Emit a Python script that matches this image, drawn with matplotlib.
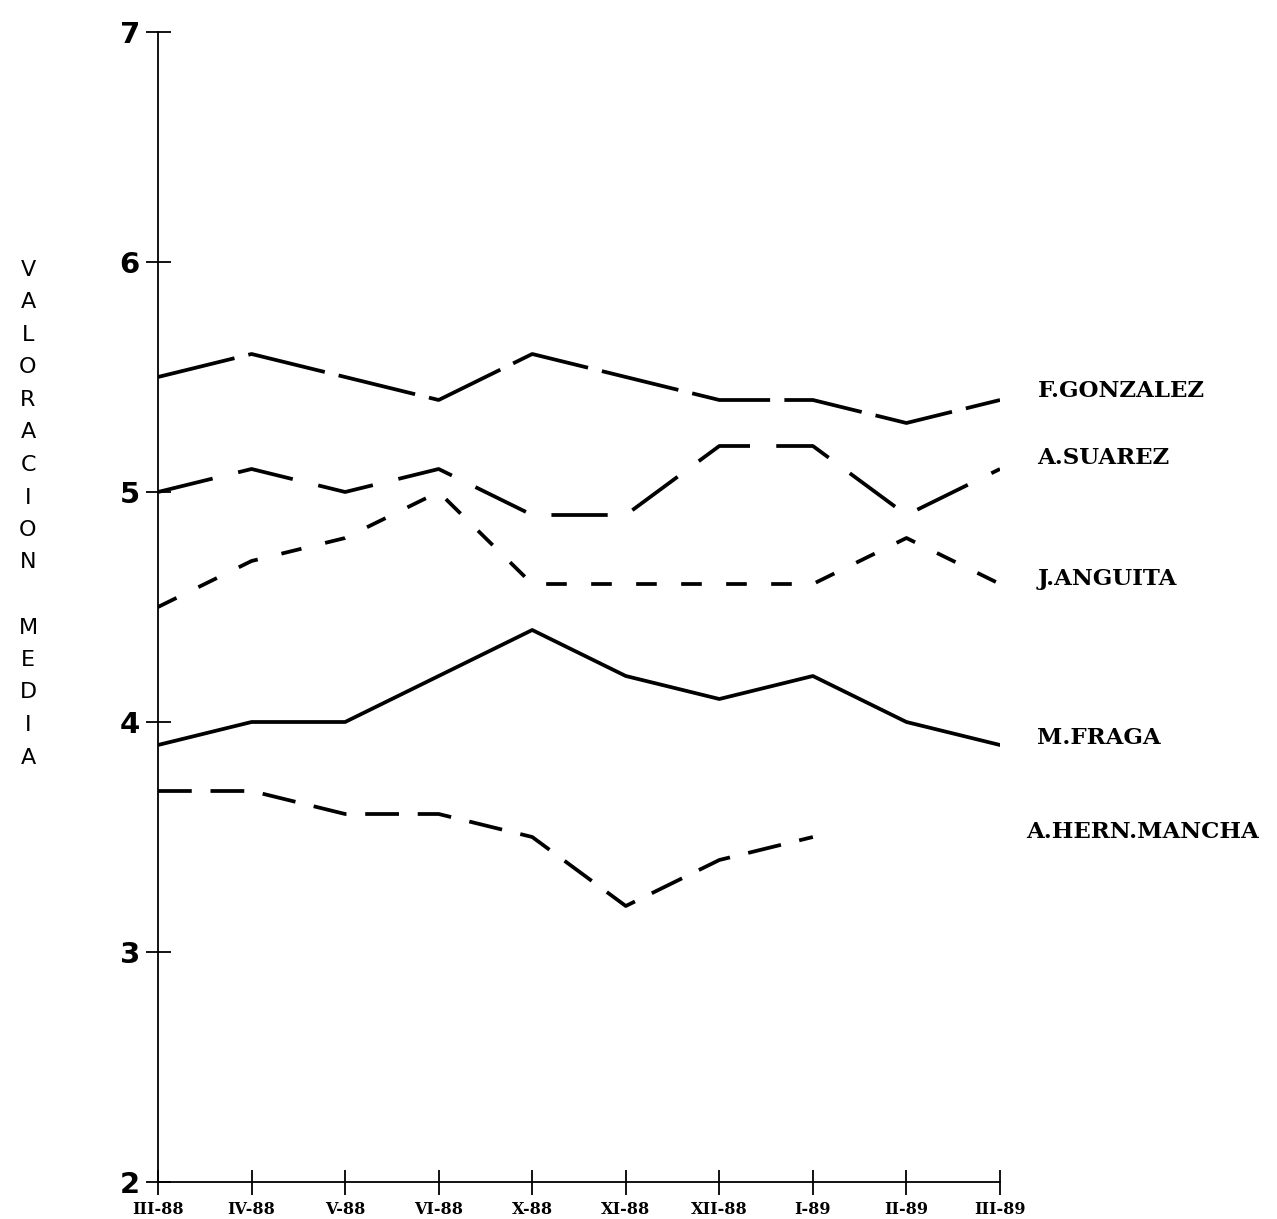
import numpy as np
import matplotlib.pyplot as plt

meses = ['III-88', 'IV-88', 'V-88', 'VI-88', 'X-88', 'XI-88', 'XII-88',
         'I-89', 'II-89', 'III-89']

gonzalez = [5.5, 5.6, 5.5, 5.4, 5.6, 5.5, 5.4, 5.4, 5.3, 5.4]
suarez = [5.0, 5.1, 5.0, 5.1, 4.9, 4.9, 5.2, 5.2, 4.9, 5.1]
anguita = [4.5, 4.7, 4.8, 5.0, 4.6, 4.6, 4.6, 4.6, 4.8, 4.6]
fraga = [3.9, 4.0, 4.0, 4.2, 4.4, 4.2, 4.1, 4.2, 4.0, 3.9]
mancha = [3.7, 3.7, 3.6, 3.6, 3.5, 3.2, 3.4, 3.5, np.nan, np.nan]

nombres = ['F.GONZALEZ', 'A.SUAREZ', 'J.ANGUITA', 'M.FRAGA', 'A.HERN.MANCHA']
pos_nombres = [5.44, 5.15, 4.62, 3.93, 3.52]

fig = plt.figure(figsize=(12.77, 12.19), dpi=100)
ax = fig.add_axes([158 / 1277, 1 - 1182 / 1219, 842 / 1277, 1150 / 1219])

x = np.arange(len(meses))
lw = 2.7
ax.plot(x, gonzalez, color='black', lw=lw, dashes=(21, 3.8))
ax.plot(x, suarez, color='black', lw=lw, dashes=(15, 7))
ax.plot(x, anguita, color='black', lw=lw, dashes=(5.5, 6.5))
ax.plot(x, fraga, color='black', lw=lw)
ax.plot(x, mancha, color='black', lw=lw, dashes=(9, 5))

ax.set_xlim(0, 9)
ax.set_ylim(2, 7)
ax.set_xticks(x)
ax.set_xticklabels(meses, fontfamily='DejaVu Serif', fontweight='bold',
                   fontsize=11.5)
ax.set_yticks([2, 3, 4, 5, 6, 7])
ax.set_yticklabels(['2', '3', '4', '5', '6', '7'], fontweight='bold',
                   fontsize=21)
ax.tick_params(direction='inout', length=18, width=1.3, pad=4)
ax.tick_params(axis='x', pad=5)

for s in ['top', 'right']:
    ax.spines[s].set_visible(False)
for s in ['left', 'bottom']:
    ax.spines[s].set_linewidth(1.3)

# nombres a la derecha
for nombre, yy in zip(nombres, pos_nombres):
    xx = 9.4 if nombre != 'A.HERN.MANCHA' else 9.28
    ax.text(xx, yy, nombre, fontfamily='DejaVu Serif', fontweight='bold',
            fontsize=16.5, ha='left', va='center', clip_on=False)

# etiqueta vertical
etiqueta = 'VALORACION MEDIA'
for i, letra in enumerate(etiqueta):
    fig.text(28 / 1277, 1 - (270 + i * 32.5) / 1219, letra, fontsize=16,
             ha='center', va='center')

fig.savefig('out.png', dpi=100, facecolor='white')
